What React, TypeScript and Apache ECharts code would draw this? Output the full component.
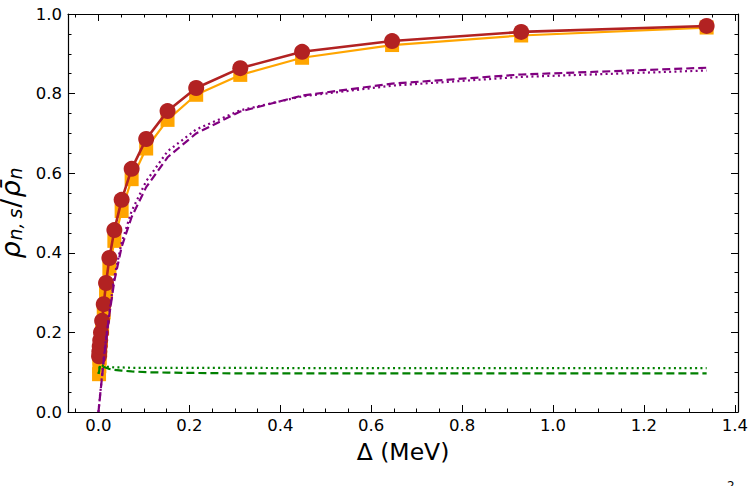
import React, { useEffect, useRef } from "react";
import * as echarts from "echarts";

// Δ (MeV) sampling of the points
const DELTA = [0.0013, 0.0019, 0.0027, 0.0039, 0.0056, 0.0081, 0.0116, 0.0167, 0.024, 0.035, 0.051, 0.073, 0.105, 0.152, 0.215, 0.312, 0.448, 0.646, 0.93, 1.338];
const RED_CIRCLES = [0.14, 0.152, 0.165, 0.18, 0.2, 0.229, 0.271, 0.324, 0.387, 0.457, 0.533, 0.611, 0.686, 0.756, 0.814, 0.864, 0.905, 0.932, 0.955, 0.97];
const ORANGE_SQUARES = [0.095, 0.115, 0.135, 0.155, 0.18, 0.21, 0.25, 0.3, 0.36, 0.43, 0.505, 0.585, 0.662, 0.734, 0.797, 0.847, 0.89, 0.922, 0.946, 0.966];

// curves start at Δ = 0
const DELTA_CURVE = [0, ...DELTA];
const PURPLE_DASHED = [0, 0.015, 0.022, 0.03, 0.045, 0.063, 0.09, 0.13, 0.18, 0.245, 0.33, 0.415, 0.49, 0.565, 0.64, 0.7, 0.755, 0.795, 0.825, 0.848, 0.865];
const PURPLE_DOTTED = [0, 0.016, 0.023, 0.032, 0.047, 0.066, 0.094, 0.135, 0.185, 0.25, 0.34, 0.425, 0.505, 0.58, 0.655, 0.71, 0.758, 0.793, 0.82, 0.842, 0.858];
const GREEN_DASHED = [0.096, 0.1, 0.106, 0.112, 0.117, 0.118, 0.116, 0.113, 0.111, 0.108, 0.106, 0.104, 0.102, 0.1, 0.099, 0.098, 0.097, 0.097, 0.097, 0.097, 0.097];
const GREEN_DOTTED = [0.096, 0.102, 0.108, 0.114, 0.118, 0.118, 0.117, 0.115, 0.114, 0.113, 0.112, 0.112, 0.111, 0.111, 0.111, 0.111, 0.111, 0.11, 0.11, 0.11, 0.11];

const X_MIN = -0.067;
const X_MAX = 1.407;
const X_TICKS = [0, 0.2, 0.4, 0.6, 0.8, 1.0, 1.2, 1.4];
const X_MINOR_TICKS = [-0.05, 0.05, 0.1, 0.15, 0.25, 0.3, 0.35, 0.45, 0.5, 0.55, 0.65, 0.7, 0.75, 0.85, 0.9, 0.95, 1.05, 1.1, 1.15, 1.25, 1.3, 1.35];
const Y_MIN = 0;
const Y_MAX = 1;
const Y_STEP = 0.2;

const FONT = "DejaVu Sans";

const pairs = (xs: number[], ys: number[]) => xs.map((x, i) => [x, ys[i]]);

export default function App() {
  const ref = useRef<HTMLDivElement>(null);

  useEffect(() => {
    if (!ref.current) return;
    const chart = echarts.init(ref.current, undefined, { renderer: "svg" });

    const axisLine = { show: true, onZero: false, lineStyle: { color: "#000", width: 1.2 } };
    const xBase = (position: string, ticks: number[], len: number, showLine: boolean, showLabel: boolean) => ({
      type: "value",
      position,
      min: X_MIN,
      max: X_MAX,
      axisLine: showLine ? axisLine : { show: false, onZero: false },
      splitLine: { show: false },
      axisTick: { show: true, inside: true, length: len, customValues: ticks, lineStyle: { color: "#000", width: 1 } },
      axisLabel: showLabel
        ? { show: true, customValues: X_TICKS, margin: 5, fontSize: 16.5, fontFamily: FONT, color: "#000", formatter: (v: number) => v.toFixed(1) }
        : { show: false },
    });
    const yBase = (position: string, showLabel: boolean) => ({
      type: "value",
      position,
      min: Y_MIN,
      max: Y_MAX,
      interval: Y_STEP,
      axisLine: axisLine,
      splitLine: { show: false },
      minorSplitLine: { show: false },
      axisTick: { show: true, inside: true, length: 7, lineStyle: { color: "#000", width: 1 } },
      minorTick: { show: true, splitNumber: 4, length: 3.5, lineStyle: { color: "#000", width: 1 } },
      axisLabel: showLabel
        ? { show: true, margin: 6, fontSize: 16.5, fontFamily: FONT, color: "#000", formatter: (v: number) => v.toFixed(1) }
        : { show: false },
    });

    const xAxis: any[] = [
      {
        ...xBase("bottom", X_TICKS, 7, true, true),
        name: "Δ (MeV)",
        nameLocation: "middle",
        nameGap: 28,
        nameTextStyle: { fontSize: 23.5, fontFamily: FONT, color: "#000" },
      },
      xBase("bottom", X_MINOR_TICKS, 3.5, false, false),
      xBase("top", X_TICKS, 7, true, false),
      xBase("top", X_MINOR_TICKS, 3.5, false, false),
    ];
    const yAxis: any[] = [
      {
        ...yBase("left", true),
        name: "{i|ρ}{s|n,\u2009s}{n|/}{i|ρ̄}{s|n}",
        nameLocation: "middle",
        nameRotate: 90,
        nameGap: 33,
        nameTextStyle: {
          fontFamily: FONT,
          color: "#000",
          rich: {
            i: { fontSize: 27, fontStyle: "italic", fontFamily: FONT, color: "#000" },
            n: { fontSize: 27, fontFamily: FONT, color: "#000", padding: [0, 1, 0, 1] },
            s: { fontSize: 19, fontStyle: "italic", fontFamily: FONT, color: "#000", padding: [10, 0, 0, 1] },
          },
        },
      },
      yBase("right", false),
    ];

    const line = (data: number[][], color: string, type: any, width: number, z: number) => ({
      type: "line",
      xAxisIndex: 0,
      yAxisIndex: 0,
      data,
      showSymbol: false,
      symbol: "none",
      z,
      lineStyle: { color, width, type },
    });

    chart.setOption({
      animation: false,
      backgroundColor: "#fff",
      grid: { left: 68, right: 18, top: 14, bottom: 74, containLabel: false, outerBoundsMode: "none" },
      xAxis,
      yAxis,
      series: [
        {
          type: "line",
          data: pairs(DELTA, ORANGE_SQUARES),
          symbol: "rect",
          symbolSize: 14,
          showSymbol: true,
          z: 2,
          itemStyle: { color: "#FFA500", borderWidth: 0 },
          lineStyle: { color: "#FFA500", width: 2.2 },
        },
        {
          type: "line",
          data: pairs(DELTA, RED_CIRCLES),
          symbol: "circle",
          symbolSize: 16,
          showSymbol: true,
          z: 3,
          itemStyle: { color: "#B22222", borderWidth: 0 },
          lineStyle: { color: "#B22222", width: 2.6 },
        },
        line(pairs(DELTA_CURVE, PURPLE_DASHED), "#800080", [8, 4], 2.2, 4),
        line(pairs(DELTA_CURVE, PURPLE_DOTTED), "#800080", [2, 3.3], 2.2, 5),
        line(pairs(DELTA_CURVE, GREEN_DASHED), "#008000", [8, 4], 2.2, 4),
        line(pairs(DELTA_CURVE, GREEN_DOTTED), "#008000", [2, 3.3], 2.2, 5),
      ],
      graphic: [
        { type: "text", left: 727, top: 480, style: { text: "2", fontSize: 12, fontFamily: FONT, fill: "#000" } },
      ],
    });

    return () => chart.dispose();
  }, []);

  return (
    <div
      ref={ref}
      style={{ position: "absolute", left: 0, top: 0, width: 756, height: 486, background: "#fff" }}
    />
  );
}
